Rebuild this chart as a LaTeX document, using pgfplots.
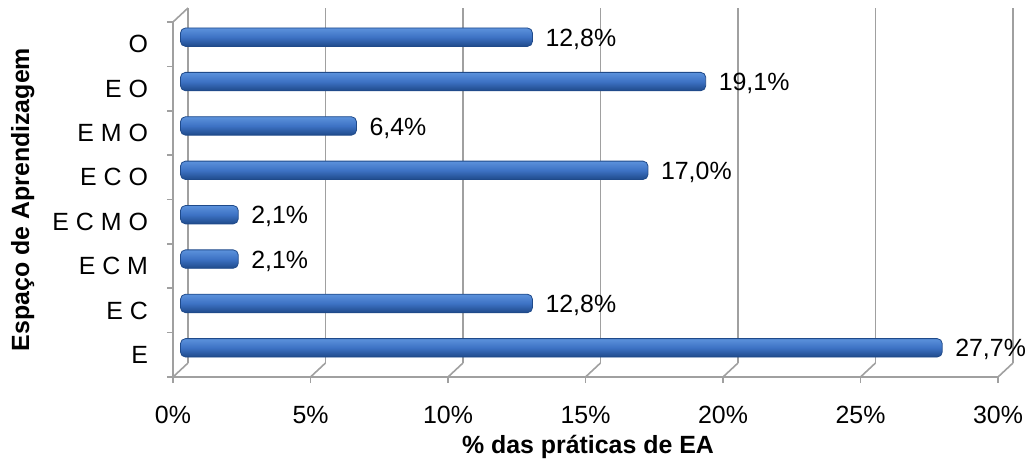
\documentclass[border=0pt]{standalone}
\usepackage{pgfplots}
\pgfplotsset{compat=1.18}
\usepackage{fontspec}
\setmainfont{Liberation Sans}
\definecolor{bartop}{HTML}{5C92DC}
\definecolor{barmid}{HTML}{3D72C4}
\definecolor{barbot}{HTML}{1F4A8A}
\definecolor{gridc}{HTML}{A0A0A0}
\newcommand{\lbl}{\fontsize{12.5}{15}\selectfont}
\begin{document}
\begin{tikzpicture}
\pgfresetboundingbox
\path[use as bounding box] (-86.5bp,-43.5bp) rectangle (430bp,188.5bp);
\begin{axis}[
  at={(0,0)}, anchor=south west,
  scale only axis, width=412.5bp, height=177.5bp,
  xbar, bar width=9.2bp, bar shift=0pt,
  xmin=0, xmax=30, ymin=-0.5, ymax=7.5,
  axis lines*=left,
  axis line style={gridc, line width=0.8pt},
  xtick={0,5,...,30},
  xticklabel={\pgfmathprintnumber{\tick}\%},
  /pgf/number format/assume math mode=true,
  ytick={0,...,7},
  yticklabels={E, E C, E C M, E C M O, E C O, E M O, E O, O},
  minor ytick={-0.5,0.5,...,7.5},
  major y tick style={draw=none},
  minor y tick style={gridc, line width=0.8pt},
  x tick style={gridc, line width=0.8pt},
  tick align=outside,
  major tick length=3bp, minor tick length=3bp,
  xmajorgrids,
  major grid style={gridc, line width=0.8pt, xshift=7.5bp, yshift=7bp},
  tick label style={font=\lbl, text=black},
  yticklabel style={xshift=-6bp},
  xticklabel style={yshift=-8bp},
  label style={font=\lbl\bfseries},
  xlabel={\% das práticas de EA},
  ylabel={Espaço de Aprendizagem},
  xlabel style={at={(axis description cs:0.503,-0.197)}, anchor=center},
  ylabel style={at={(axis description cs:-0.182,0.5)}, anchor=center},
  nodes near coords={\pgfmathprintnumber[fixed,fixed zerofill,precision=1,use comma]{\pgfplotspointmeta}\%},
  nodes near coords style={anchor=west, text=black, font=\lbl, xshift=3bp, yshift=-1bp},
  bstyle/.style={draw=barbot, line width=0.4pt, top color=bartop, bottom color=barbot, middle color=barmid, rounded corners=2.5bp, xshift=3.75bp, yshift=3.5bp},
  clip=false,
]
\pgfplotsinvokeforeach{0,5,...,30}{\draw[gridc, line width=0.8pt] (axis cs:#1,-0.5) -- ++(7.5bp,7bp);}
\draw[gridc, line width=0.8pt] (axis cs:0,7.5) -- ++(7.5bp,7bp);
\addplot[bstyle] coordinates {(27.7,0)};
\addplot[bstyle] coordinates {(12.8,1)};
\addplot[bstyle] coordinates {(2.1,2)};
\addplot[bstyle] coordinates {(2.1,3)};
\addplot[bstyle] coordinates {(17.0,4)};
\addplot[bstyle] coordinates {(6.4,5)};
\addplot[bstyle] coordinates {(19.1,6)};
\addplot[bstyle] coordinates {(12.8,7)};
\end{axis}
\end{tikzpicture}
\end{document}
